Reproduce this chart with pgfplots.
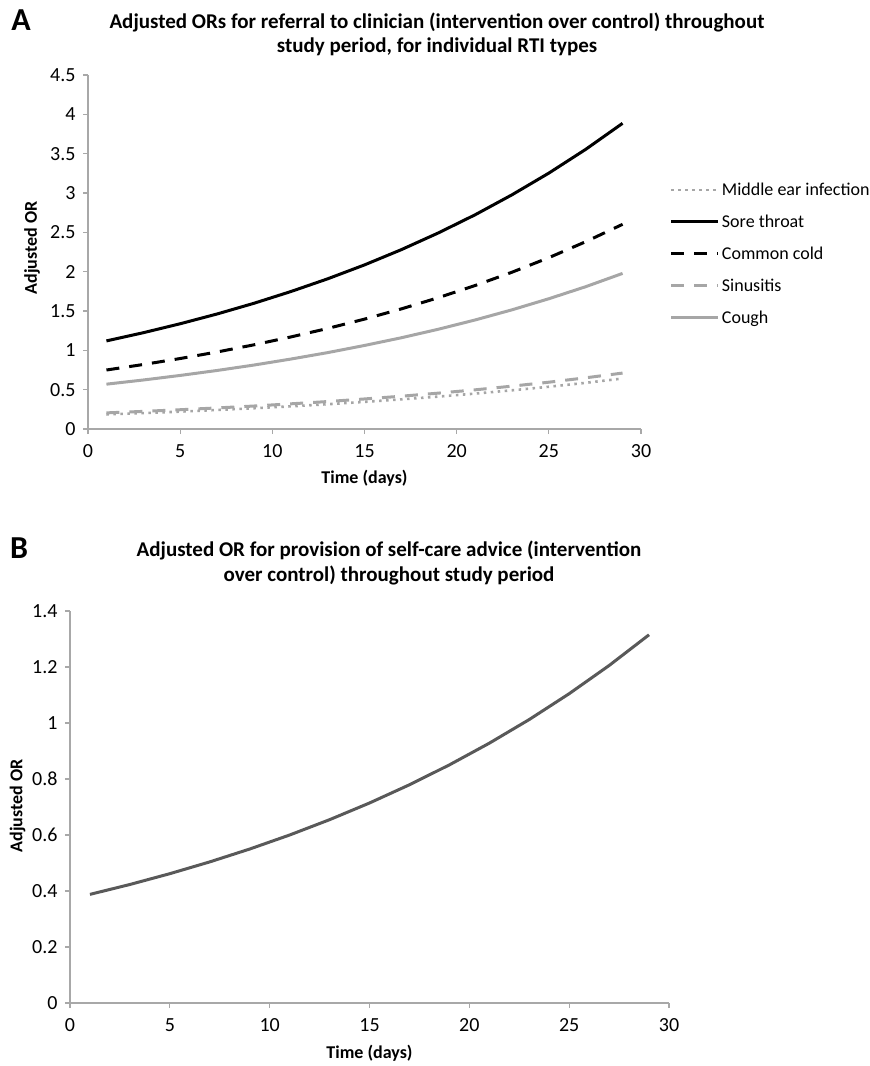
\documentclass[border=0pt]{standalone}
\usepackage{pgfplots}
\pgfplotsset{compat=1.18}
\usepackage{fontspec}
\setmainfont{Carlito}
\definecolor{lgray}{HTML}{A6A6A6}
\definecolor{dgray}{HTML}{595959}
\definecolor{axgray}{HTML}{A8A8A8}

\pgfplotstableread{
x   ear    sore   cold   sinus  cough
1   0.185  1.120  0.750  0.205  0.570
3   0.202  1.224  0.820  0.224  0.623
5   0.221  1.338  0.896  0.245  0.681
7   0.242  1.462  0.979  0.268  0.744
9   0.264  1.598  1.070  0.292  0.813
11  0.288  1.747  1.170  0.320  0.889
13  0.315  1.909  1.278  0.349  0.971
15  0.345  2.086  1.397  0.382  1.062
17  0.377  2.280  1.527  0.417  1.160
19  0.412  2.492  1.669  0.456  1.268
21  0.450  2.723  1.824  0.498  1.386
23  0.492  2.977  1.993  0.545  1.515
25  0.537  3.253  2.178  0.595  1.656
27  0.587  3.555  2.381  0.651  1.809
29  0.642  3.886  2.602  0.711  1.978
}\refdata

\pgfplotstableread{
x   or
1   0.388
3   0.4233
5   0.4619
7   0.5040
9   0.5499
11  0.6000
13  0.6547
15  0.7143
17  0.7794
19  0.8504
21  0.9279
23  1.0124
25  1.1047
27  1.2053
29  1.3151
}\advdata

\pgfplotsset{
  excelaxis/.style={
    scale only axis,
    axis lines*=left,
    axis line style={axgray, line width=1.2pt},
    tick style={axgray, line width=1.2pt},
    major tick length=5pt,
    tick align=outside,
    xmin=0, xmax=30,
    xtick={0,5,...,30},
    ymin=0,
    tick label style={font=\fontsize{20}{23}\selectfont, /pgf/number format/assume math mode=true},
    xticklabel style={yshift=-7pt},
    yticklabel style={xshift=-4pt},
    label style={font=\bfseries\fontsize{18}{21}\selectfont},
    clip=false,
  }
}

\begin{document}
\begin{tikzpicture}
\path[use as bounding box] (0pt,0pt) rectangle (870pt,-1066pt);

% Panel A
\node[font=\bfseries\fontsize{32}{36}\selectfont] at (21pt,-20pt) {A};
\node[font=\bfseries\fontsize{21}{24}\selectfont, align=center] at (437pt,-34pt)
  {Adjusted ORs for referral to clinician (intervention over control) throughout\\study period, for individual RTI types};

\begin{axis}[excelaxis,
  at={(88pt,-429pt)}, anchor=south west,
  width=553pt, height=354pt,
  ymax=4.5, ytick={0,0.5,...,4.5},
  xlabel={Time (days)}, ylabel={Adjusted OR},
  xlabel style={at={(axis description cs:0.50,-0.138)}, anchor=center},
  ylabel style={at={(axis description cs:-0.101,0.511)}, anchor=center},
  legend style={at={(axis description cs:1.052,0.495)}, anchor=west,
    draw=none, fill=none, font=\fontsize{18}{21}\selectfont,
    row sep=14pt, inner xsep=0pt, legend cell align=left},
  legend image code/.code={\draw[#1] (0pt,0pt) -- (47pt,0pt);},
]
\addplot[lgray, line width=2.6pt, dash pattern=on 2.5pt off 4.5pt] table[x=x,y=ear]{\refdata};
\addlegendentry{Middle ear infection}
\addplot[black, line width=3pt] table[x=x,y=sore]{\refdata};
\addlegendentry{Sore throat}
\addplot[black, line width=3pt, dash pattern=on 13pt off 10pt] table[x=x,y=cold]{\refdata};
\addlegendentry{Common cold}
\addplot[lgray, line width=3pt, dash pattern=on 13pt off 10pt] table[x=x,y=sinus]{\refdata};
\addlegendentry{Sinusitis}
\addplot[lgray, line width=3pt] table[x=x,y=cough]{\refdata};
\addlegendentry{Cough}
\end{axis}

% Panel B
\node[font=\bfseries\fontsize{32}{36}\selectfont] at (19pt,-548pt) {B};
\node[font=\bfseries\fontsize{21}{25}\selectfont, align=center] at (389pt,-563pt)
  {Adjusted OR for provision of self-care advice (intervention\\over control) throughout study period};

\begin{axis}[excelaxis,
  at={(70pt,-1003pt)}, anchor=south west,
  width=599pt, height=392pt,
  ymax=1.4, ytick={0,0.2,...,1.4},
  yticklabel style={/pgf/number format/fixed},
  xlabel={Time (days)}, ylabel={Adjusted OR},
  xlabel style={at={(axis description cs:0.50,-0.128)}, anchor=center},
  ylabel style={at={(axis description cs:-0.0876,0.503)}, anchor=center},
]
\addplot[dgray, line width=3pt] table[x=x,y=or]{\advdata};
\end{axis}
\end{tikzpicture}
\end{document}
